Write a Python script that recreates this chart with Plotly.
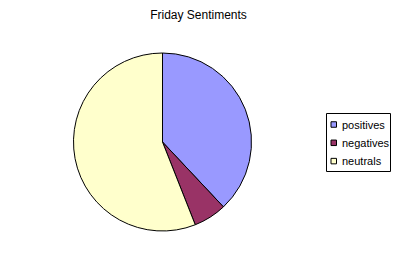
import plotly.graph_objects as go

labels = ["positives", "negatives", "neutrals"]
values = [38, 6, 56]
colors = ["#9999FF", "#993366", "#FFFFCC"]

W, H = 397, 253
fig = go.Figure(go.Pie(
    labels=labels, values=values, sort=False, direction="clockwise", rotation=0,
    marker=dict(colors=colors, line=dict(color="black", width=1)),
    textinfo="none", hoverinfo="label+value", showlegend=False,
    domain=dict(x=[73.5 / W, 251.5 / W], y=[1 - 231 / H, 1 - 53 / H]),
))

# legend drawn as a boxed list (pixel layout constants)
LX0, LX1, LY0, LY1 = 326.5, 390.5, 113.5, 171.5
ROW0, ROWSTEP = 124.5, 18.3
SYM_X0, SYM = 331, 5.5
TXT_X = 339.5

def px(x):
    return x / W

def py(y):
    return 1 - y / H

shapes = [dict(type="rect", xref="paper", yref="paper",
               x0=px(LX0), x1=px(LX1), y0=py(LY1), y1=py(LY0),
               line=dict(color="black", width=1), fillcolor="white", layer="below")]
annotations = []
for i, (lab, col) in enumerate(zip(labels, colors)):
    yc = ROW0 + i * ROWSTEP
    shapes.append(dict(type="rect", xref="paper", yref="paper",
                       x0=px(SYM_X0), x1=px(SYM_X0 + SYM),
                       y0=py(yc + SYM / 2), y1=py(yc - SYM / 2),
                       line=dict(color="black", width=1), fillcolor=col))
    annotations.append(dict(text=lab, xref="paper", yref="paper", x=px(TXT_X), y=py(yc),
                            xanchor="left", yanchor="middle", showarrow=False,
                            font=dict(size=11, color="black")))

fig.update_layout(
    width=W, height=H, margin=dict(l=0, r=0, t=0, b=0, autoexpand=False),
    paper_bgcolor="white", plot_bgcolor="white",
    font=dict(family="Liberation Sans, Arial", size=11, color="black"),
    title=dict(text="Friday Sentiments", x=0.5, xanchor="center", y=1 - 15 / H, yanchor="middle",
               font=dict(size=12, color="black")),
    shapes=shapes, annotations=annotations,
)
fig.write_html("out.html")
